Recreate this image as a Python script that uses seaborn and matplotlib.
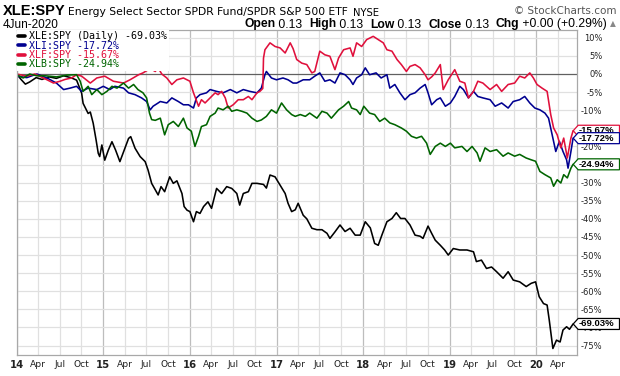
import numpy as np
import pandas as pd
import matplotlib
matplotlib.use("Agg")
import matplotlib.pyplot as plt
import matplotlib.dates as mdates
from matplotlib.patches import Polygon
from matplotlib.lines import Line2D
from matplotlib.transforms import IdentityTransform
import seaborn as sns

# ---------------- data: (months since 1-Jan-2014, % change) ----------------
xle = [(0, 0), (0.6, -1.5), (1.2, -2.8), (1.8, -2.2), (2.7, -1.0), (3.5, -1.5), (4.5, -0.8), (5.5, -1.2),
       (6.5, -0.5), (7.5, -1.0), (8.3, -1.7), (9.0, -5.3), (9.2, -8.1), (9.9, -10.9), (10.2, -10.5),
       (10.6, -13.6), (11.0, -18.2), (11.3, -21.9), (11.5, -22.8), (11.8, -19.6), (12.2, -23.8),
       (12.7, -21.0), (13.2, -18.7), (13.7, -21.0), (14.3, -24.2), (14.8, -21.5), (15.5, -17.8),
       (15.8, -17.3), (16.4, -20.5), (17.1, -22.8), (17.8, -24.2), (18.2, -26.5), (18.7, -30.2),
       (19.2, -32.0), (19.6, -33.4), (20.0, -31.1), (20.5, -32.5), (21.2, -28.4), (21.7, -30.2),
       (22.2, -29.5), (22.9, -33.0), (23.2, -36.6), (23.6, -37.6), (24.0, -38.0), (24.5, -40.8),
       (24.9, -38.0), (25.4, -38.5), (25.9, -36.6), (26.5, -35.3), (27.0, -37.1), (27.7, -31.6),
       (28.4, -33.0), (29.1, -31.1), (29.8, -31.6), (30.5, -33.0), (30.9, -36.2), (31.4, -33.0),
       (32.1, -32.5), (32.6, -30.2), (33.3, -30.2), (34.2, -30.5), (34.6, -31.5), (35.1, -27.9),
       (35.8, -28.4), (36.5, -30.7), (37.2, -33.0), (37.6, -35.7), (38.1, -38.0), (38.6, -37.5),
       (39.0, -35.7), (39.7, -39.0), (40.2, -40.0), (40.9, -42.6), (41.6, -43.0), (42.3, -43.0),
       (43.0, -44.0), (43.4, -45.4), (44.1, -43.6), (44.8, -41.7), (45.5, -43.5), (46.2, -42.6),
       (46.9, -44.5), (47.6, -44.5), (48.3, -40.8), (49.0, -42.5), (49.6, -46.8), (50.1, -47.3),
       (50.6, -44.5), (51.3, -40.8), (52.0, -39.9), (52.6, -38.3), (53.2, -39.9), (53.8, -39.9),
       (54.5, -41.7), (55.2, -44.5), (55.9, -44.8), (56.3, -45.4), (57.0, -42.0), (57.5, -44.0),
       (58.0, -45.9), (58.7, -47.3), (59.3, -48.6), (59.8, -50.0), (60.5, -48.2), (61.4, -48.6),
       (62.4, -48.6), (63.3, -49.1), (63.7, -51.8), (64.4, -51.4), (65.1, -53.7), (65.8, -53.3),
       (66.5, -54.6), (67.4, -56.4), (68.1, -54.6), (68.8, -56.9), (69.7, -57.4), (70.6, -58.7),
       (71.3, -57.8), (71.9, -57.4), (72.4, -61.5), (73.0, -63.4), (73.5, -63.8), (73.8, -68.0),
       (74.1, -72.6), (74.3, -75.8), (74.8, -73.5), (75.3, -74.0), (75.7, -70.7), (76.2, -69.8),
       (76.6, -70.5), (77.1, -69.03)]

xli = [(0, -0.6), (1.4, -1.0), (2.8, 0.0), (4.2, -1.1), (5.5, -2.5), (6.5, -4.3), (7.4, -3.9), (8.3, -3.4),
       (9.0, -4.8), (9.9, -3.9), (11.1, -4.3), (12.0, -3.4), (12.9, -4.3), (13.6, -3.4), (14.8, -3.9),
       (15.5, -5.2), (16.4, -5.7), (17.3, -6.6), (18.0, -7.6), (18.5, -9.9), (18.9, -8.9), (19.6, -8.0),
       (19.9, -7.6), (20.8, -8.0), (21.5, -6.6), (22.4, -7.6), (23.1, -8.5), (23.8, -8.5), (24.5, -9.4),
       (24.9, -6.6), (25.4, -5.7), (26.3, -5.2), (26.8, -4.3), (27.7, -4.8), (28.6, -5.2), (29.6, -4.3),
       (30.5, -5.2), (31.4, -4.3), (32.3, -4.8), (33.3, -5.2), (33.9, -3.9), (34.4, -0.2), (34.6, 0.7),
       (35.3, -1.1), (36.0, -1.6), (36.9, -1.1), (37.6, -1.6), (38.3, -2.5), (38.8, -2.5), (39.7, -1.6),
       (40.6, -1.6), (41.3, -0.6), (42.0, 0.3), (42.7, -2.0), (43.4, -1.6), (44.1, -2.5), (44.8, 0.3),
       (45.5, -0.2), (46.2, -1.6), (46.6, -2.9), (47.1, -1.1), (47.8, -0.2), (48.3, 1.7), (48.9, -0.2),
       (49.8, 0.3), (50.5, -1.1), (51.3, -0.2), (51.7, -3.9), (52.4, -2.9), (53.1, -5.2), (53.8, -7.1),
       (54.5, -5.7), (55.2, -5.2), (55.9, -3.9), (56.6, -2.9), (57.0, -5.2), (57.5, -8.5), (58.2, -7.1),
       (58.7, -6.6), (59.4, -8.9), (60.1, -8.0), (60.7, -6.2), (61.4, -3.4), (61.9, -4.3), (62.6, -6.6),
       (63.3, -4.8), (63.9, -6.2), (64.6, -6.6), (65.6, -7.1), (66.3, -8.9), (67.2, -8.0), (68.1, -9.4),
       (68.8, -7.6), (69.7, -7.1), (70.4, -6.2), (71.1, -8.0), (71.8, -9.4), (72.5, -9.9), (73.2, -10.8),
       (73.7, -12.2), (74.2, -16.8), (74.7, -21.4), (75.2, -18.6), (75.7, -21.4), (76.2, -23.7),
       (76.4, -26.0), (76.8, -21.4), (77.1, -17.72)]

xlf = [(0, 0), (1.4, -0.6), (2.5, 0), (3.7, -1.1), (5.1, -2.5), (6.0, -2.0), (6.7, -1.5), (7.6, -1.1),
       (8.3, -0.2), (9.0, -0.6), (10.2, -2.5), (11.1, -1.1), (12.2, -0.6), (13.4, -2.0), (14.8, -2.5),
       (15.7, -1.6), (16.9, -0.2), (17.5, 0.3), (18.5, 1.5), (19.2, 0.7), (19.6, 1.7), (20.1, 0.0),
       (20.8, -1.1), (21.5, -2.9), (22.2, -1.6), (23.1, -1.1), (24.0, -2.0), (24.5, -5.2), (25.2, -8.9),
       (25.6, -7.1), (26.1, -8.0), (26.8, -6.6), (27.5, -5.2), (27.9, -5.7), (28.4, -4.8), (28.9, -6.6),
       (29.3, -9.4), (30.0, -8.5), (30.7, -7.1), (31.4, -7.1), (32.1, -6.2), (32.6, -7.1), (33.3, -5.2),
       (33.7, -4.8), (34.1, -4.0), (34.2, 4.4), (34.4, 6.7), (35.1, 8.6), (35.8, 7.6), (36.5, 7.2),
       (37.2, 5.8), (37.9, 8.6), (38.3, 7.0), (38.8, 4.0), (39.5, 3.0), (40.2, 2.6), (40.9, 0.3),
       (41.3, 0.7), (42.0, 6.3), (42.7, 5.3), (43.4, 4.9), (44.1, 1.2), (44.6, 4.4), (45.3, 6.7),
       (46.2, 7.2), (46.6, 4.9), (47.1, 8.6), (47.8, 7.6), (48.5, 9.5), (49.4, 10.4), (50.1, 9.5),
       (50.8, 8.6), (51.3, 6.7), (52.0, 6.3), (52.7, 4.0), (53.3, 2.6), (54.0, 0.7), (54.5, 2.1),
       (55.2, 2.6), (55.9, 1.7), (56.6, -0.2), (57.0, -1.6), (57.5, -0.8), (58.0, 0.3), (58.7, 2.6),
       (59.1, -4.3), (59.8, -1.6), (60.7, 1.2), (61.4, -2.0), (62.1, -2.5), (62.6, -6.6), (63.3, -4.8),
       (63.9, -2.0), (64.6, -2.5), (65.6, -4.3), (66.5, -2.9), (67.2, -4.8), (68.1, -2.9), (69.0, -2.5),
       (69.7, -0.6), (70.4, -1.1), (71.1, 0.3), (71.6, -1.1), (72.1, -2.9), (72.8, -3.9), (73.5, -4.8),
       (74.0, -11.2), (74.4, -14.9), (74.9, -16.8), (75.4, -20.4), (75.8, -17.7), (76.3, -23.2),
       (76.8, -17.7), (77.1, -15.67)]

xlb = [(0, -0.2), (0.9, -1.1), (1.8, 0.0), (2.8, -0.5), (4.0, -0.5), (5.5, -0.8), (7.0, -0.3), (8.3, -0.2),
       (8.8, -2.0), (9.2, -4.8), (9.9, -3.4), (10.4, -5.7), (11.1, -4.3), (11.8, -5.7), (12.5, -4.8),
       (13.2, -3.4), (13.9, -3.9), (14.8, -2.5), (15.5, -3.9), (16.2, -2.9), (16.8, -4.3), (17.5, -5.2),
       (18.0, -6.6), (18.4, -10.8), (18.7, -12.6), (19.2, -12.8), (19.9, -12.2), (20.5, -16.8),
       (21.0, -14.0), (21.7, -13.1), (22.4, -14.5), (23.1, -12.2), (23.6, -14.9), (24.2, -15.8),
       (24.7, -20.0), (25.2, -17.2), (25.6, -14.5), (26.3, -14.0), (26.8, -11.7), (27.5, -10.8),
       (27.9, -9.4), (28.6, -9.9), (29.3, -8.9), (29.8, -10.3), (30.5, -9.9), (31.2, -10.3), (31.9, -10.8),
       (32.6, -12.2), (33.3, -13.1), (33.9, -12.7), (34.6, -11.7), (35.3, -9.9), (36.0, -10.8),
       (36.7, -8.0), (37.4, -9.9), (38.1, -11.2), (38.6, -11.7), (39.3, -11.2), (40.0, -11.7),
       (40.6, -10.8), (41.6, -12.2), (42.3, -10.3), (43.0, -10.8), (43.6, -12.2), (44.6, -9.9),
       (45.3, -8.9), (46.0, -7.6), (46.4, -9.4), (47.1, -9.9), (47.6, -11.2), (48.1, -8.9), (48.9, -10.8),
       (49.6, -11.2), (50.3, -13.1), (51.0, -12.2), (51.7, -13.5), (52.4, -14.0), (53.3, -14.9),
       (54.0, -15.8), (54.7, -17.2), (55.4, -17.7), (56.1, -17.2), (56.8, -19.1), (57.3, -22.2),
       (58.0, -20.0), (58.7, -19.1), (59.4, -20.0), (60.1, -19.1), (60.7, -20.4), (61.7, -20.0),
       (62.4, -21.4), (63.1, -20.0), (63.8, -21.8), (64.2, -24.1), (64.9, -20.4), (65.6, -21.4),
       (66.5, -20.9), (67.4, -22.7), (68.1, -21.8), (69.0, -22.7), (69.7, -22.2), (70.6, -23.2),
       (71.3, -23.7), (71.9, -24.1), (72.5, -26.9), (73.2, -27.8), (74.0, -28.7), (74.4, -31.0),
       (74.9, -29.2), (75.4, -30.1), (75.8, -27.8), (76.3, -28.7), (76.8, -26.0), (77.1, -24.94)]

series_names = ["XLE:SPY", "XLI:SPY", "XLF:SPY", "XLB:SPY"]
series_data = [xle, xli, xlf, xlb]
legend_labels = ["XLE:SPY (Daily) -69.03%", "XLI:SPY -17.72%", "XLF:SPY -15.67%", "XLB:SPY -24.94%"]
end_labels = ["-69.03%", "-17.72%", "-15.67%", "-24.94%"]
colors = ["#000000", "#000090", "#e0103c", "#006400"]
y_ticks = list(range(-75, 11, 5))
x_tick_dates = pd.date_range("2014-01-01", "2020-04-01", freq="QS")

# ---------------- build frame ----------------
base = pd.Timestamp("2014-01-01")
rows = []
for name, data in zip(series_names, series_data):
    for m, v in data:
        rows.append((name, base + pd.Timedelta(days=m * 30.4375), v))
df = pd.DataFrame(rows, columns=["series", "date", "pct"])

sns.set_style("white")
plt.rcParams["font.family"] = ["DejaVu Sans"]

W, H = 620, 376
fig = plt.figure(figsize=(W / 100, H / 100), dpi=100)
ax = fig.add_axes([16.7 / W, 21 / H, 560 / W, 325 / H])

sns.lineplot(data=df, x="date", y="pct", hue="series", hue_order=series_names,
             palette=colors, estimator=None, sort=False, linewidth=1.15, legend=False, ax=ax)

ax.set_xlim(base, base + pd.Timedelta(days=77.6 * 30.4375))
ax.set_ylim(-77.6, 12.15)

# grid
for t in x_tick_dates:
    ax.axvline(t, color="#bdbdbd" if t.month == 1 else "#e0e0e0", lw=0.9, zorder=0)
for yv in y_ticks:
    ax.axhline(yv, color="#606060" if yv == 0 else "#e0e0e0", lw=0.9, zorder=0.5 if yv == 0 else 0)

# axes styling
for s in ax.spines.values():
    s.set_color("#a8a8a8")
    s.set_linewidth(0.9)
ax.set_xlabel("")
ax.set_ylabel("")
ax.yaxis.tick_right()
ax.set_yticks(y_ticks)
ax.set_yticklabels([f"{v}%" for v in y_ticks])
ax.tick_params(axis="y", which="both", length=0, pad=18.5, labelsize=6.0, colors="#222222")
for lab in ax.get_yticklabels():
    lab.set_horizontalalignment("right")

xlabels = [f"{t.year % 100:02d}" if t.month == 1 else t.strftime("%b") for t in x_tick_dates]
ax.set_xticks(x_tick_dates)
ax.set_xticklabels(xlabels)
ax.tick_params(axis="x", length=2, pad=1.5, labelsize=6.6, colors="#222222", color="#bdbdbd")
for lab, t in zip(ax.get_xticklabels(), x_tick_dates):
    if t.month == 1:
        lab.set_fontweight("bold")
        lab.set_fontsize(7.2)

# legend
handles = [Line2D([], [], color=c, lw=2.6) for c in colors]
leg = ax.legend(handles, legend_labels, loc="upper left", bbox_to_anchor=(0.0, 1.0),
                frameon=True, fancybox=False, facecolor="white", edgecolor="none", framealpha=1.0,
                borderaxespad=0.0, borderpad=0.12, handlelength=0.75, handletextpad=0.4,
                labelspacing=-0.06, prop={"family": "DejaVu Sans Mono", "size": 7.2})
for txt, c in zip(leg.get_texts(), colors):
    txt.set_color(c)
leg.set_zorder(5)

# ---------------- header ----------------
idt = IdentityTransform()
fig.canvas.draw()
renderer = fig.canvas.get_renderer()


def ptext(x, y, s, **kw):
    return fig.text(x, H - y, s, transform=idt, **kw)


def fit(t, target):
    w = t.get_window_extent(renderer).width
    t.set_fontsize(t.get_fontsize() * target / w)
    return t


fit(ptext(3, 11, "XLE:SPY", fontsize=11, fontweight="bold", family="Liberation Sans",
          va="center", color="#000000"), 62)
fit(ptext(68, 12, "Energy Select Sector SPDR Fund/SPDR S&P 500 ETF", fontsize=9, family="DejaVu Sans",
          va="center", color="#000000"), 279)
fit(ptext(353, 12.5, "NYSE", fontsize=6.5, family="DejaVu Sans", va="center", color="#000000"), 26)
fit(ptext(616, 10.5, "\u00a9 StockCharts.com", fontsize=7, family="DejaVu Sans", va="center", ha="right",
          color="#555555"), 102)
fit(ptext(3, 24.5, "4Jun-2020", fontsize=8, family="Liberation Sans", va="center", color="#000000"), 56)

pieces = [("Open", True), (" 0.13  ", False), ("High", True), (" 0.13  ", False), ("Low", True),
          (" 0.13  ", False), ("Close", True), (" 0.13  ", False), ("Chg", True),
          (" +0.00 (+0.29%) ", False), ("\u25b2", None)]
xr = 616
for s, bold in reversed(pieces):
    if bold is None:
        t = ptext(xr, 24.0, s, fontsize=5.5, family="DejaVu Sans", va="center", ha="right", color="#888888")
    else:
        t = ptext(xr, 24.5, s, fontsize=8.7, family="Liberation Sans", va="center", ha="right",
                  fontweight="bold" if bold else "normal", color="#000000")
    xr -= t.get_window_extent(renderer).width

# ---------------- end-value tags ----------------
draw_order = [2, 1, 3, 0]
x_edge = ax.transAxes.transform((1, 0))[0]
for k, i in enumerate(draw_order):
    m, v = series_data[i][-1]
    d = mdates.date2num(base + pd.Timedelta(days=m * 30.4375))
    yd = ax.transData.transform((d, v))[1]
    xa = x_edge - 3.5
    hh = 5.5
    pts = [(xa, yd), (xa + 5, yd + hh), (W - 0.5, yd + hh), (W - 0.5, yd - hh), (xa + 5, yd - hh)]
    fig.add_artist(Polygon(pts, closed=True, transform=idt, facecolor="white", edgecolor=colors[i],
                           lw=0.9, zorder=10 + k))
    fig.text(xa + 5.5, yd, end_labels[i], transform=idt, fontsize=6.8, fontweight="bold",
             family="Liberation Sans", va="center", ha="left", color="#000000", zorder=10.5 + k)

fig.savefig("out.png", dpi=100)
